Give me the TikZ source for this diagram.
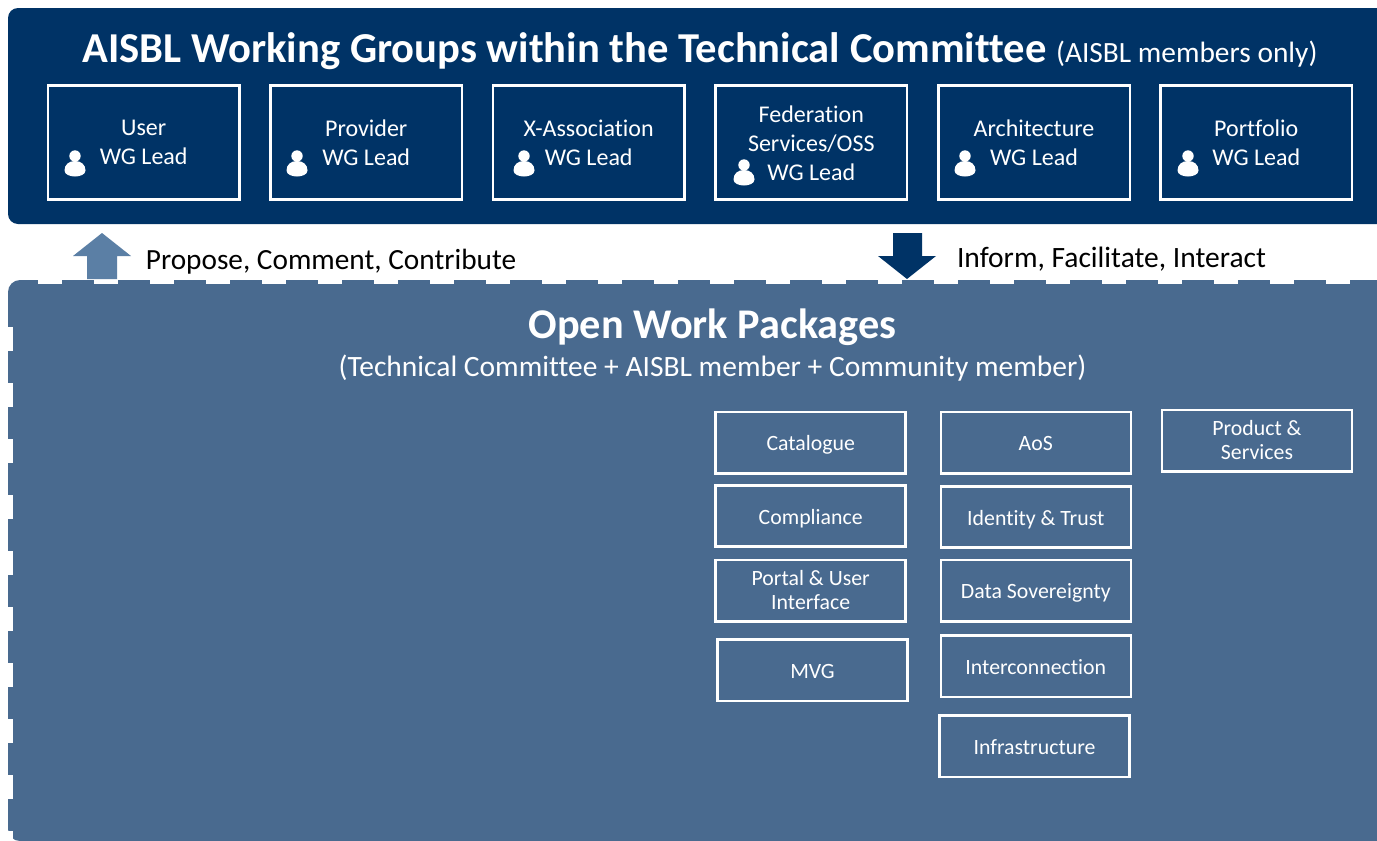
\documentclass[tikz,border=0pt]{standalone}
\usepackage{fontspec}
\setmainfont[Ligatures=NoCommon]{Carlito}
\definecolor{wgblue}{RGB}{0,51,102}
\definecolor{wpblue}{RGB}{73,106,143}
\definecolor{uparrow}{RGB}{91,127,165}
\tikzset{every picture/.style={x=1pt,y=-1pt}}
\tikzset{wgbox/.style={draw=white, line width=2.5pt, text=white, align=center, inner sep=0pt, minimum width=191.5pt, minimum height=114pt, text depth=-1pt, font=\fontsize{24}{29}\selectfont}}
\tikzset{wpbase/.style={draw=white, line width=2.5pt, text=white, align=center, inner sep=0pt, minimum width=190pt, minimum height=61.3pt, font=\fontsize{21.8}{24}\selectfont}}
\tikzset{wpbox/.style={wpbase, text height=21pt, text depth=5pt}}
\tikzset{wptwo/.style={wpbase, text depth=1pt}}
\tikzset{caption/.style={anchor=base, inner sep=0pt}}
\tikzset{person/.pic={
\fill[white] (0,-7.5) circle (5.7);
\fill[white] (-10.5,7) .. controls (-10.5,1) and (-6,-2.5) .. (0,-2.5)
  .. controls (6,-2.5) and (10.5,1) .. (10.5,7)
  .. controls (10.5,11) and (5,13) .. (0,13)
  .. controls (-5,13) and (-10.5,11) .. (-10.5,7) -- cycle;
}}

\begin{document}
\begin{tikzpicture}
\clip (0,0) rectangle (1377,841);
\fill[white] (0,0) rectangle (1377,841);
% panels
\fill[wgblue, rounded corners=10] (8,8) rectangle (1400,224);
\fill[wpblue, rounded corners=12] (8,280) rectangle (1400,841);
\foreach \x in {0,...,24} {
\fill[white] (38+56*\x,279) rectangle (62+56*\x,284);
}
\foreach \y in {0,...,9} {
\fill[white] (7,327+56*\y) rectangle (12.5,351+56*\y);
}
% arrows
\fill[uparrow] (102,233) -- (131,256) -- (117,256) -- (117,279) -- (87,279) -- (87,256) -- (73,256) -- cycle;
\fill[wgblue] (893,233) -- (922,233) -- (922,256) -- (936,256) -- (907,279) -- (878,256) -- (893,256) -- cycle;
% headings
\node[caption, text=white] (wgtitle) at (700,62) {\fontsize{42.6}{50}\selectfont\bfseries AISBL Working Groups within the Technical Committee \fontsize{29.4}{34}\selectfont\mdseries (AISBL members only)};
\node[caption, text=white, font=\fontsize{42.3}{50}\selectfont\bfseries] (wptitle) at (712.5,338) {Open Work Packages};
\node[caption, text=white, font=\fontsize{29.5}{34}\selectfont] (wpsub) at (712.5,376) {(Technical Committee + AISBL member + Community member)};
\node[caption, font=\fontsize{29.3}{34}\selectfont] (propose) at (331,269) {Propose, Comment, Contribute};
\node[caption, font=\fontsize{29.5}{34}\selectfont] (inform) at (1111.5,267) {Inform, Facilitate, Interact};
% working groups
\node[wgbox] (user) at (143.7,142.7) {User\\WG Lead};
\node[wgbox] (provider) at (366.2,142.7) {Provider\\WG Lead};
\node[wgbox] (xassoc) at (588.7,142.7) {X-Association\\WG Lead};
\node[wgbox] (federation) at (811.3,142.7) {Federation\\Services/OSS\\WG Lead};
\node[wgbox] (architecture) at (1034,142.7) {Architecture\\WG Lead};
\node[wgbox] (portfolio) at (1256.3,142.7) {Portfolio\\WG Lead};
\pic at (75,163.5) {person};
\pic at (297,163.5) {person};
\pic at (524,163.5) {person};
\pic at (744,172.5) {person};
\pic at (965,163.5) {person};
\pic at (1188,163.5) {person};
% work packages
\node[wpbox] (catalogue) at (810.7,442.7) {Catalogue};
\node[wpbox] (compliance) at (810.7,516) {Compliance};
\node[wptwo] (portal) at (810.7,590.7) {Portal \& User\\Interface};
\node[wpbox] (mvg) at (812.5,670.3) {MVG};
\node[wpbox] (aos) at (1035.8,442.7) {AoS};
\node[wpbox] (identity) at (1035.8,517) {Identity \& Trust};
\node[wpbox] (data) at (1035.8,590.7) {Data Sovereignty};
\node[wpbox] (interconnection) at (1035.8,666.3) {Interconnection};
\node[wpbox] (infrastructure) at (1034.5,746.2) {Infrastructure};
\node[wptwo] (product) at (1257,440.7) {Product \&\\Services};
\end{tikzpicture}
\end{document}
